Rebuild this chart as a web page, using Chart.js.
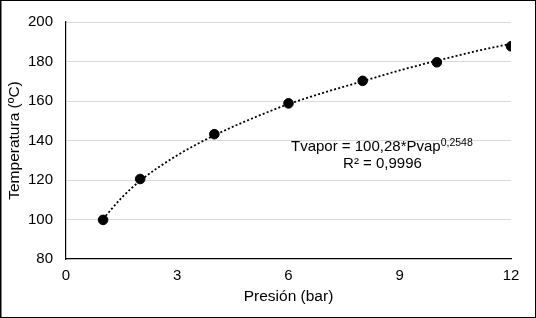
<!DOCTYPE html>
<html>
<head>
<meta charset="utf-8">
<script src="https://cdn.jsdelivr.net/npm/chart.js@4"></script>
<style>
  html, body { margin: 0; padding: 0; background: #fff; }
  #wrap { width: 536px; height: 318px; }
</style>
</head>
<body>
<div id="wrap"><canvas id="chart" width="536" height="318"></canvas></div>
<script>
// measured points (pressure in bar, temperature in ºC)
var presion = [1, 2, 4, 6, 8, 10, 12];
var temperatura = [99.8, 120.5, 143.2, 158.8, 170.2, 179.6, 187.7];

// dotted trendline
var trendX = [1, 1.5, 2, 3, 4, 5, 6, 7, 8, 9, 10, 11, 12];
var trendY = [100.3, 111, 119.6, 132.5, 142.6, 151, 158.4, 164.5, 170, 175.5, 180.4, 185, 189];

var xTicks = [0, 3, 6, 9, 12];
var yTicks = [80, 100, 120, 140, 160, 180, 200];

var FONT = '"Liberation Sans", Arial, sans-serif';

function toXY(xs, ys) {
  var out = [];
  for (var i = 0; i < xs.length; i++) {
    out.push({x: xs[i], y: ys[i]});
  }
  return out;
}

// border round the whole picture + the equation text
var extras = {
  id: 'extras',
  afterDraw: function(chart) {
    var ctx = chart.ctx;
    ctx.save();
    ctx.strokeStyle = '#000';
    ctx.lineWidth = 1;
    ctx.strokeRect(0.5, 0.5, 535, 317);
    ctx.beginPath();
    ctx.moveTo(1, 0); ctx.lineTo(1, 318);
    ctx.stroke();

    ctx.fillStyle = '#000';
    ctx.textBaseline = 'alphabetic';
    ctx.textAlign = 'left';
    ctx.font = '15px ' + FONT;
    var main = 'Tvapor = 100,28*Pvap';
    var x0 = 291, y0 = 151;
    ctx.fillText(main, x0, y0);
    var w = ctx.measureText(main).width;
    ctx.font = '10.5px ' + FONT;
    ctx.fillText('0,2548', x0 + w, y0 - 5.5);

    ctx.font = '15px ' + FONT;
    ctx.textAlign = 'center';
    ctx.fillText('R\u00b2 = 0,9996', 382.5, 168);
    ctx.restore();
  }
};

new Chart(document.getElementById('chart'), {
  type: 'scatter',
  data: {
    datasets: [{
      label: 'Tendencia',
      data: toXY(trendX, trendY),
      showLine: true,
      borderColor: '#000',
      borderWidth: 1.8,
      borderDash: [2, 2.2],
      cubicInterpolationMode: 'monotone',
      pointRadius: 0,
      fill: false,
      order: 2
    }, {
      label: 'Datos',
      data: toXY(presion, temperatura),
      backgroundColor: '#000',
      borderColor: '#000',
      pointRadius: 4.8,
      order: 1
    }]
  },
  options: {
    responsive: false,
    animation: false,
    layout: {padding: {left: 1, right: 25, top: 18, bottom: 8}},
    plugins: {
      legend: {display: false},
      tooltip: {enabled: false}
    },
    scales: {
      x: {
        type: 'linear',
        min: 0,
        max: 12,
        afterFit: function(s) { s.height = 51; },
        afterBuildTicks: function(s) { s.ticks = xTicks.map(function(v) { return {value: v}; }); },
        grid: {display: false, drawTicks: false},
        border: {display: true, color: '#000', width: 1.2},
        ticks: {color: '#000', padding: 8, font: {family: FONT, size: 15}},
        title: {display: true, text: 'Presión (bar)', color: '#000', padding: 4, font: {family: FONT, size: 15.5}}
      },
      y: {
        type: 'linear',
        min: 80,
        max: 200,
        afterFit: function(s) { s.width = 65; },
        afterBuildTicks: function(s) { s.ticks = yTicks.map(function(v) { return {value: v}; }); },
        grid: {
          drawTicks: false,
          color: function(c) { return c.tick && c.tick.value === 80 ? 'rgba(0,0,0,0)' : '#d9d9d9'; },
          lineWidth: 1
        },
        border: {display: true, color: '#000', width: 1.2},
        ticks: {color: '#000', padding: 13, font: {family: FONT, size: 15}},
        title: {display: true, text: 'Temperatura (ºC)', color: '#000', padding: 4, font: {family: FONT, size: 15.5}}
      }
    }
  },
  plugins: [extras]
});
</script>
</body>
</html>
